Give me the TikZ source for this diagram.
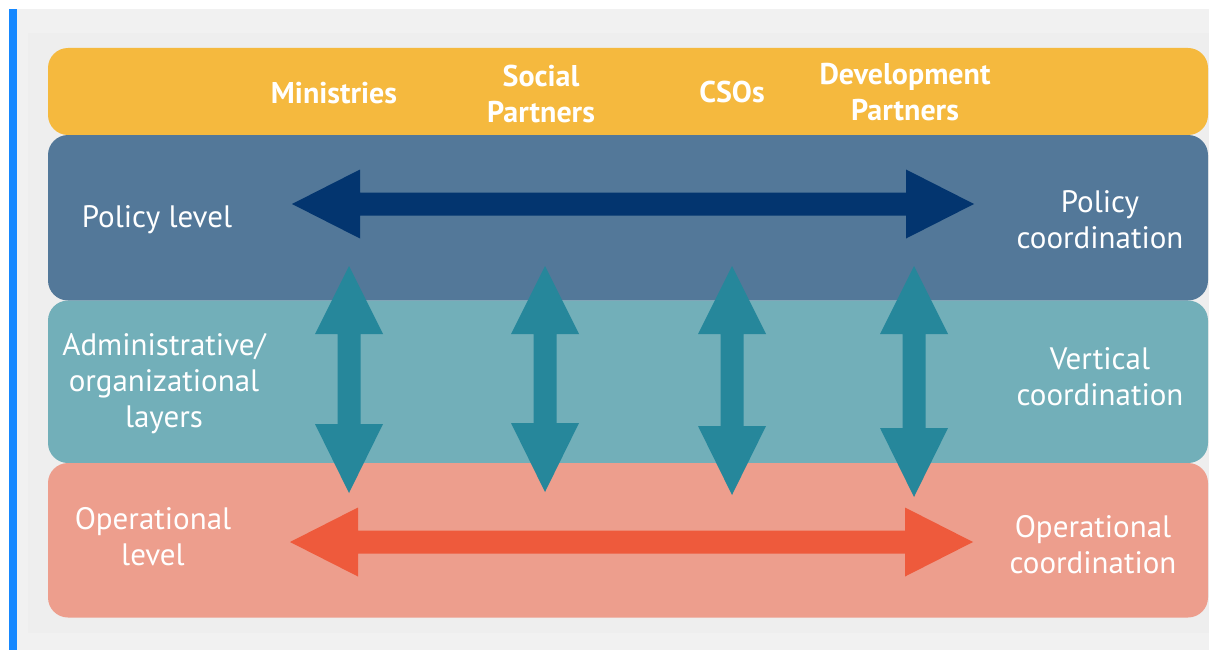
\documentclass[tikz,border=0pt]{standalone}
\usepackage{fontspec}
\setmainfont{PT Sans}
\usetikzlibrary{calc}
\definecolor{barblue}{HTML}{1688FF}
\definecolor{bgouter}{HTML}{F1F1F1}
\definecolor{bginner}{HTML}{EEEEEE}
\definecolor{bandyellow}{HTML}{F5B93E}
\definecolor{bandblue}{HTML}{537899}
\definecolor{bandteal}{HTML}{72AFB9}
\definecolor{bandsalmon}{HTML}{ED9E8D}
\definecolor{arrnavy}{HTML}{03356F}
\definecolor{arrteal}{HTML}{26879B}
\definecolor{arrorange}{HTML}{EE5A3C}
\tikzset{
  band/.style={rounded corners=20pt},
  lbl/.style={text=white, align=center, inner sep=0pt, font=\fontsize{31}{36}\selectfont},
  hdr/.style={text=white, align=center, inner sep=0pt, font=\bfseries\fontsize{30}{36}\selectfont},
}
% horizontal double block arrow between two named tips
\newcommand\hblock[3]{%
  \fill[#1] (#2) -- ++(68,-34.5) -- ++(0,23) -- ($(#3)+(-68,-11.5)$) -- ++(0,-23)
    -- (#3) -- ++(-68,34.5) -- ++(0,-23) -- ($(#2)+(68,11.5)$) -- ++(0,23) -- cycle;}
% vertical double block arrow between two named tips (top, bottom)
\newcommand\vblock[3]{%
  \fill[#1] (#2) -- ++(34,68) -- ++(-22.5,0) -- ($(#3)+(11.5,-69)$) -- ++(22.5,0)
    -- (#3) -- ++(-34,-69) -- ++(22.5,0) -- ($(#2)+(-11.5,68)$) -- ++(-22.5,0) -- cycle;}
\begin{document}
\begin{tikzpicture}[x=1pt,y=-1pt]
\useasboundingbox (0,0) rectangle (1209,650);
\fill[white] (0,0) rectangle (1209,650);
\fill[bgouter] (17,9) rectangle (1209,650);
\fill[bginner] (28,33) rectangle (1209,633);
\fill[barblue] (9,9) rectangle (16.5,650);
% bands
\fill[band, bandyellow] (48,48) rectangle (1208,135);
\fill[band, bandblue] (48,135) rectangle (1208,300.5);
\fill[band, bandteal] (48,300.5) rectangle (1208,463);
\fill[band, bandsalmon] (48,463) rectangle (1208,617.5);
% arrow tips
\coordinate (polL) at (292,204);
\coordinate (polR) at (974,204);
\coordinate (opL) at (290,542);
\coordinate (opR) at (973,542);
\coordinate (v1t) at (349,266); \coordinate (v1b) at (349,493);
\coordinate (v2t) at (545,266); \coordinate (v2b) at (545,492);
\coordinate (v3t) at (732,266); \coordinate (v3b) at (732,495);
\coordinate (v4t) at (914,266); \coordinate (v4b) at (914,497);
\hblock{arrnavy}{polL}{polR}
\hblock{arrorange}{opL}{opR}
\vblock{arrteal}{v1t}{v1b}
\vblock{arrteal}{v2t}{v2b}
\vblock{arrteal}{v3t}{v3b}
\vblock{arrteal}{v4t}{v4b}
% headers
\node[hdr] (min) at (334,93) {Ministries};
\node[hdr] (soc) at (541,94) {Social\\Partners};
\node[hdr] (cso) at (732,92) {CSOs};
\node[hdr] (dev) at (905,92) {Development\\Partners};
% left labels
\node[lbl] (pl) at (157,220) {Policy level};
\node[lbl] (al) at (164,384) {Administrative/\\organizational\\layers};
\node[lbl] (ol) at (153,537) {Operational\\level};
% right labels
\node[lbl] (pc) at (1100,220) {Policy\\coordination};
\node[lbl] (vc) at (1100,377) {Vertical\\coordination};
\node[lbl] (oc) at (1093,545) {Operational\\coordination};
\end{tikzpicture}
\end{document}
